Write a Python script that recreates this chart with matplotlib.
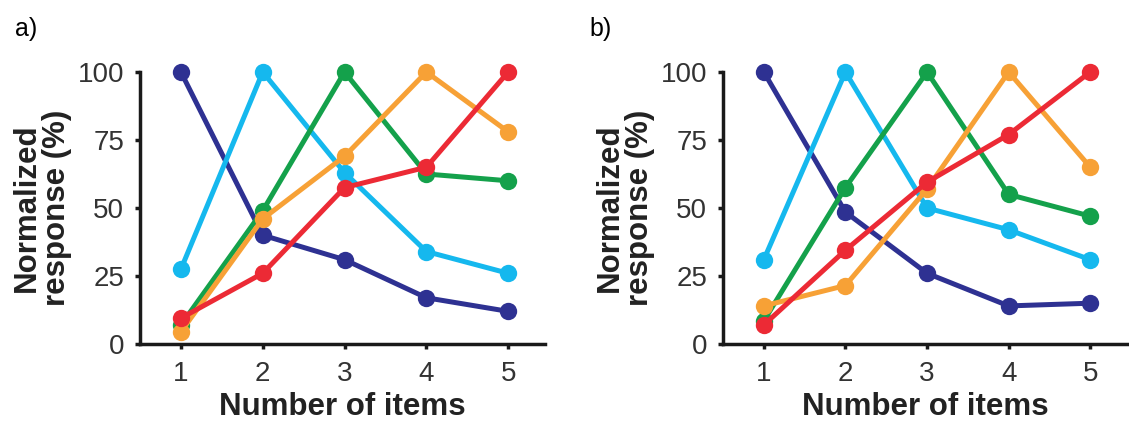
import matplotlib.pyplot as plt

plt.rcParams['font.family'] = ['Liberation Sans', 'DejaVu Sans']

# number of items shown (x axis)
items = [1, 2, 3, 4, 5]

# panel a) normalized responses (%), one curve per preferred number
a_one = [100, 40, 31, 17, 12]
a_two = [27.5, 100, 63, 34, 26]
a_three = [7, 49, 100, 62.5, 60]
a_four = [4.5, 46, 69, 100, 78]
a_five = [9.5, 26, 57.5, 65, 100]

# panel b) normalized responses (%)
b_one = [100, 48.5, 26, 14, 15]
b_two = [31, 100, 50, 42, 31]
b_three = [8.5, 57.5, 100, 55, 47]
b_four = [14, 21.5, 57, 100, 65]
b_five = [7, 34.5, 59.5, 77, 100]

colors = ['#2e3192', '#15b8ee', '#14a14b', '#f7a136', '#ec2a35']
yticks = [0, 25, 50, 75, 100]

fig = plt.figure(figsize=(11.29, 4.23), dpi=100)


def draw_panel(ax, series, letter, lx):
    for ys, c in zip(series, colors):
        ax.plot(items, ys, color=c, lw=3.6, marker='o', ms=12.5,
                mec='none', solid_capstyle='round', clip_on=False)
    ax.set_xlim(0.5, 5.45)
    ax.set_ylim(0, 100)
    ax.set_xticks(items)
    ax.set_yticks(yticks)
    for side in ['top', 'right']:
        ax.spines[side].set_visible(False)
    for side in ['left', 'bottom']:
        ax.spines[side].set_linewidth(2.5)
        ax.spines[side].set_color('#1a1a1a')
    ax.tick_params(axis='both', direction='out', length=3.5, width=2.5,
                   color='#1a1a1a', labelsize=20, labelcolor='#333333')
    ax.tick_params(axis='x', pad=9)
    ax.tick_params(axis='y', pad=8)
    ax.set_xlabel('Number of items', fontsize=22.5, fontweight='bold',
                  color='#222222', labelpad=3)
    ax.set_ylabel('Normalized\nresponse (%)', fontsize=22.5,
                  fontweight='bold', color='#222222', va='center',
                  linespacing=1.0)
    ax.yaxis.set_label_coords(-0.242, 0.5)
    fig.text(lx, 1 - 36 / 423, letter, fontsize=18, va='baseline')


ax_a = fig.add_axes([140 / 1129, 1 - 344 / 423, 405 / 1129, 272 / 423])
draw_panel(ax_a, [a_one, a_two, a_three, a_four, a_five], 'a)', 15 / 1129)

ax_b = fig.add_axes([723 / 1129, 1 - 344 / 423, 404 / 1129, 272 / 423])
draw_panel(ax_b, [b_one, b_two, b_three, b_four, b_five], 'b)', 589 / 1129)

fig.savefig('out.png', dpi=100, facecolor='white')
